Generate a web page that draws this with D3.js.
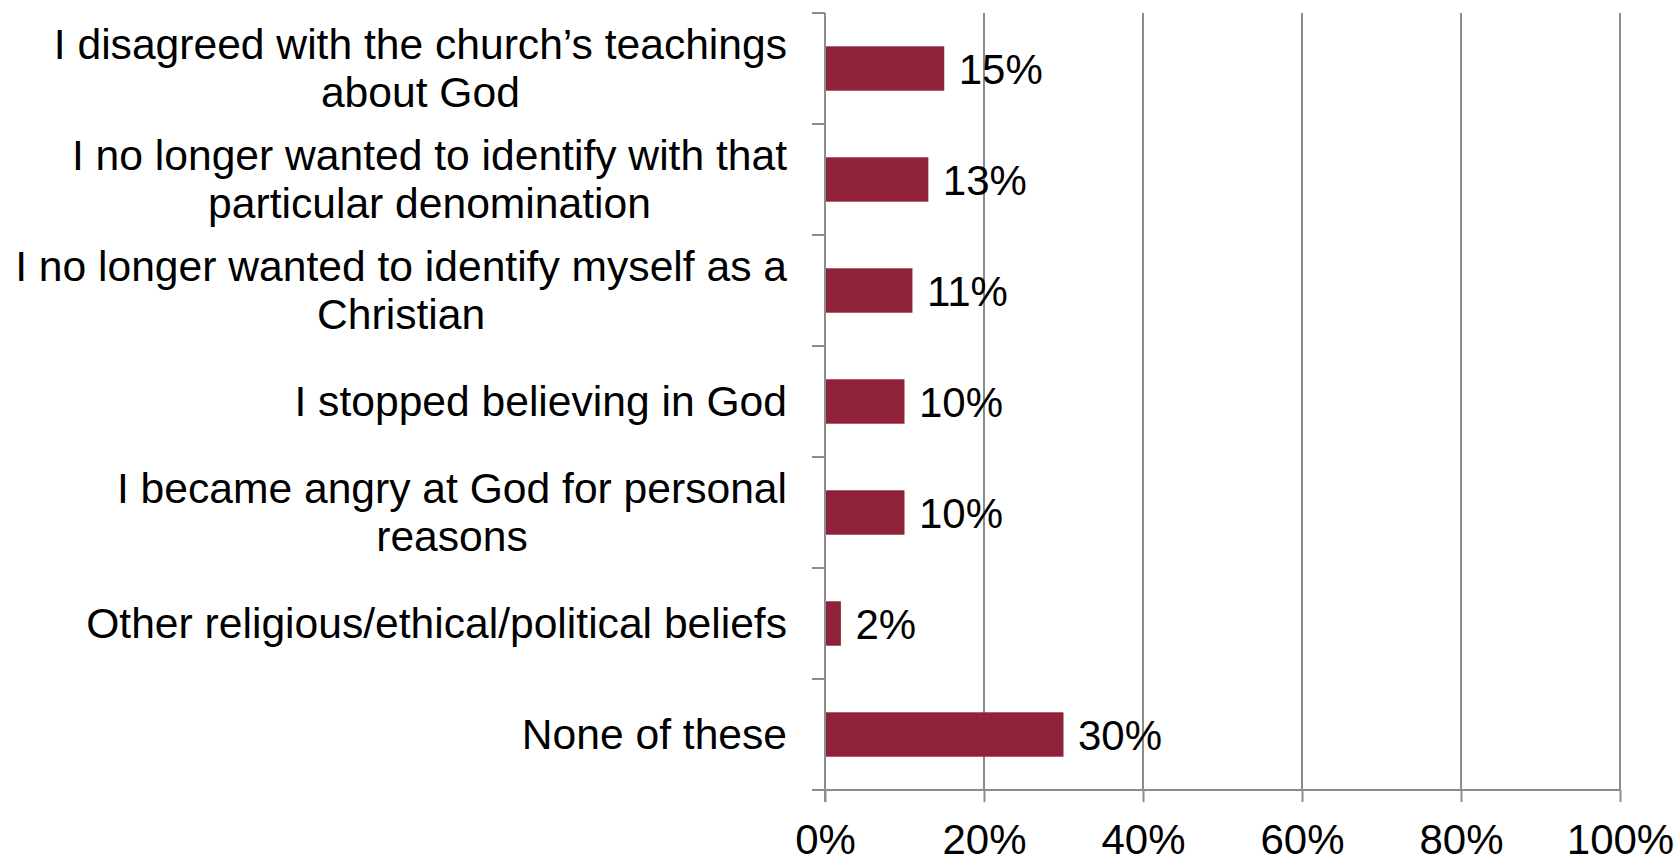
<!DOCTYPE html>
<html>
<head>
<meta charset="utf-8">
<script src="https://cdn.jsdelivr.net/npm/d3@7"></script>
<style>
  html, body { margin: 0; padding: 0; background: #fff; }
  svg { display: block; }
  text { font-family: "Liberation Sans", Arial, sans-serif; fill: #000; }
</style>
</head>
<body>
<svg id="chart" width="1677" height="859"></svg>
<script>
const categories = [
  "I disagreed with the church’s teachings\nabout God",
  "I no longer wanted to identify with that\nparticular denomination",
  "I no longer wanted to identify myself as a\nChristian",
  "I stopped believing in God",
  "I became angry at God for personal\nreasons",
  "Other religious/ethical/political beliefs",
  "None of these"
];
const values = [0.15, 0.13, 0.11, 0.10, 0.10, 0.02, 0.30];
const xTicks = [0, 0.2, 0.4, 0.6, 0.8, 1.0];

(function () {
const svg = d3.select("#chart");
const mLeft = 825, mRight = 1620, mTop = 13, mBottom = 790;
const fontSize = 42;
const catFontSize = 42.6;
const gridColor = "#8c8c8c";
const barColor = "#8f2239";

const x = d3.scaleLinear().domain([0, 1]).range([mLeft, mRight]);
const y = d3.scaleBand().domain(categories).range([mTop, mBottom]).padding(0);
const fmt = d3.format(".0%");

// vertical gridlines
svg.append("g").selectAll("line").data(xTicks.filter(d => d > 0)).join("line")
  .attr("x1", d => x(d)).attr("x2", d => x(d))
  .attr("y1", mTop).attr("y2", mBottom)
  .attr("stroke", gridColor).attr("stroke-width", 2);

// x axis (bottom)
const xAxis = d3.axisBottom(x).tickValues(xTicks).tickFormat(fmt).tickSize(12).tickSizeOuter(0);
const gx = svg.append("g").attr("transform", `translate(0,${mBottom})`).call(xAxis);
gx.select(".domain").remove();
gx.append("line").attr("x1", mLeft - 13).attr("x2", mRight).attr("y1", 0).attr("y2", 0)
  .attr("stroke", gridColor).attr("stroke-width", 2);
gx.selectAll(".tick line").attr("stroke", gridColor).attr("stroke-width", 2);
gx.selectAll(".tick text")
  .attr("font-size", fontSize)
  .attr("font-family", "'Liberation Sans', Arial, sans-serif")
  .attr("fill", "#000")
  .attr("dy", null)
  .attr("y", 64);

// y axis line + ticks at band boundaries
const gy = svg.append("g");
gy.append("line").attr("x1", mLeft).attr("x2", mLeft).attr("y1", mTop).attr("y2", mBottom + 12)
  .attr("stroke", gridColor).attr("stroke-width", 2);
const boundaries = categories.map(c => y(c)).concat([y(categories[categories.length - 1]) + y.bandwidth()]);
gy.selectAll("line.yt").data(boundaries).join("line").attr("class", "yt")
  .attr("x1", mLeft - 13).attr("x2", mLeft)
  .attr("y1", d => d).attr("y2", d => d)
  .attr("stroke", gridColor).attr("stroke-width", 2);

// bars
const barH = y.bandwidth() * 0.4;
svg.append("g").selectAll("rect").data(categories).join("rect")
  .attr("x", mLeft + 1)
  .attr("y", d => y(d) + y.bandwidth() / 2 - barH / 2)
  .attr("width", (d, i) => x(values[i]) - mLeft - 1)
  .attr("height", barH)
  .attr("fill", barColor);

// value labels
svg.append("g").selectAll("text").data(categories).join("text")
  .attr("x", (d, i) => x(values[i]) + 14.5)
  .attr("y", d => y(d) + y.bandwidth() / 2 + 15)
  .attr("font-size", fontSize)
  .text((d, i) => fmt(values[i]));

// category labels
const lineH = 48;
const labelRight = 787;
const catG = svg.append("g");
categories.forEach(c => {
  const lines = c.split("\n");
  const cy = y(c) + y.bandwidth() / 2;
  const t = catG.append("text")
    .attr("text-anchor", "end")
    .attr("font-size", catFontSize);
  lines.forEach((ln, j) => {
    t.append("tspan")
      .attr("x", labelRight)
      .attr("y", cy + 14 - (lines.length - 1) * lineH / 2 + j * lineH)
      .text(ln);
  });
});
// wrapped labels: lines centred on the longest line, block right-aligned
catG.selectAll("text").each(function () {
  const tsp = d3.select(this).selectAll("tspan");
  if (tsp.size() > 1) {
    const w = d3.max(tsp.nodes(), n => n.getComputedTextLength());
    const cx = labelRight - w / 2;
    d3.select(this).attr("text-anchor", "middle");
    tsp.attr("x", cx);
  }
});
})();
</script>
</body>
</html>
